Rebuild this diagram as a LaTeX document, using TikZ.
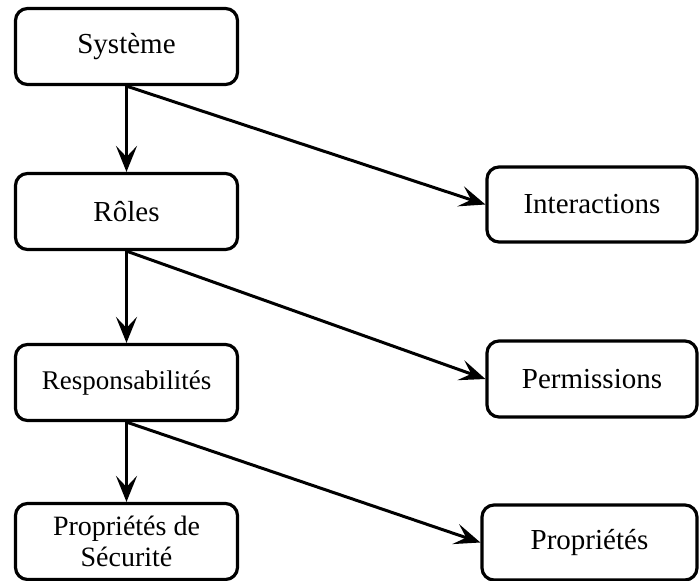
\documentclass[tikz,border=0pt]{standalone}
\usepackage{fontspec}
\setmainfont{Liberation Serif}
\usetikzlibrary{arrows.meta}
\begin{document}
\begin{tikzpicture}[x=1pt,y=-1pt,
  box/.style={draw, line width=3.2pt, rounded corners=12pt, align=center,
              inner sep=0pt, font=\fontsize{29}{32}\selectfont},
  leftbox/.style={box, minimum width=222pt, minimum height=76pt},
  rightbox/.style={box, minimum width=210pt, minimum height=75pt},
  link/.style={line width=3pt, -{Stealth[length=26pt,width=21pt,inset=11pt]}}]
\useasboundingbox (0,0) rectangle (699,581);

% left column
\node[leftbox] (sys)   at (126.5,46.5)  {Système};
\node[leftbox] (roles) at (126.5,211.5) {Rôles};
\node[leftbox, font=\fontsize{27}{30}\selectfont] (resp) at (126.5,382.5) {Responsabilités};
\node[leftbox, font=\fontsize{28}{30.5}\selectfont] (secu) at (126.5,541.5) {Propriétés de\\Sécurité};

% right column
\node[rightbox] (inter) at (592,204.5) {Interactions};
\node[rightbox, minimum height=76pt] (perm) at (592,379) {Permissions};
\node[rightbox, minimum width=215pt] (prop) at (589.5,542.5) {Propriétés};

% connectors
\draw[link] (sys.south)   -- (roles.north);
\draw[link] (roles.south) -- (resp.north);
\draw[link] (resp.south)  -- (secu.north);
\draw[link] (sys.south)   -- (inter.west);
\draw[link] (roles.south) -- (perm.west);
\draw[link] (resp.south)  -- (prop.west);
\end{tikzpicture}
\end{document}
